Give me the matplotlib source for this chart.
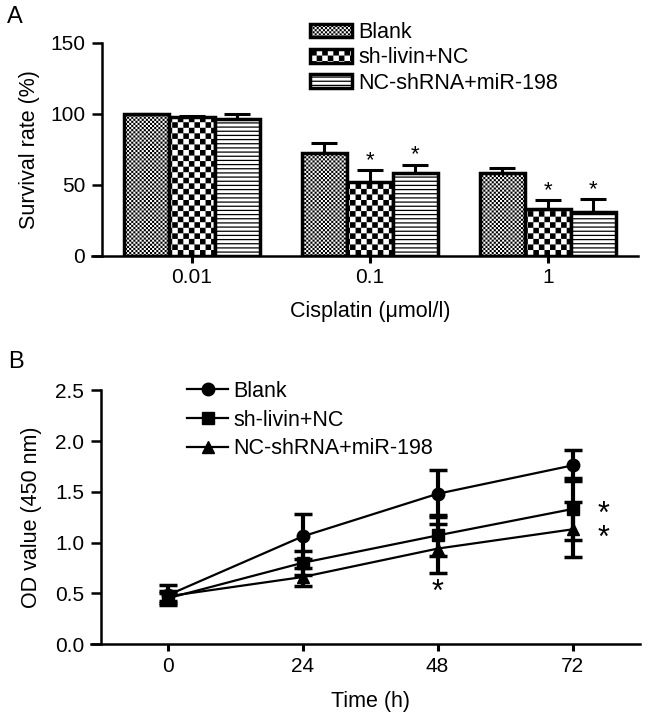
import numpy as np
import matplotlib
matplotlib.use("Agg")
import matplotlib.pyplot as plt
import matplotlib.hatch as mhatch
from matplotlib.path import Path

plt.rcParams['font.family'] = ['Liberation Sans', 'DejaVu Sans']
plt.rcParams['hatch.linewidth'] = 0.9

# ---- data, panel A ----
doses = ["0.01", "0.1", "1"]
groups = ["Blank", "sh-livin+NC", "NC-shRNA+miR-198"]
survival = {
    "Blank": [100.0, 72.5, 58.5],
    "sh-livin+NC": [97.5, 52.0, 32.7],
    "NC-shRNA+miR-198": [96.3, 58.0, 30.6],
}
survival_err = {
    "Blank": [0.0, 7.0, 3.0],
    "sh-livin+NC": [1.0, 8.4, 6.5],
    "NC-shRNA+miR-198": [3.3, 6.1, 9.1],
}
# (dose index, group) pairs marked with *
stars_a = [(1, "sh-livin+NC"), (1, "NC-shRNA+miR-198"),
           (2, "sh-livin+NC"), (2, "NC-shRNA+miR-198")]

# ---- data, panel B ----
hours = [0, 24, 48, 72]
od = {
    "Blank": [0.48, 1.06, 1.48, 1.76],
    "sh-livin+NC": [0.45, 0.80, 1.07, 1.33],
    "NC-shRNA+miR-198": [0.47, 0.66, 0.94, 1.13],
}
od_err = {
    "Blank": [0.10, 0.22, 0.23, 0.15],
    "sh-livin+NC": [0.05, 0.12, 0.20, 0.31],
    "NC-shRNA+miR-198": [0.05, 0.09, 0.24, 0.27],
}


class CheckerHatch(mhatch.HatchPatternBase):
    """Filled checkerboard hatch, drawn for 'O' (replaces the large circles)."""

    def __init__(self, hatch, density):
        self.n = hatch.count('O') * density
        self.num_vertices = (self.n * self.n // 2) * 5

    def set_vertices_and_codes(self, vertices, codes):
        n = self.n
        cell = 1.0 / n
        # the hatch path is also stroked, so shrink squares by half a line width
        half = cell / 2 - plt.rcParams['hatch.linewidth'] / 72 / 2
        half = max(half, 0.0005)
        sq = np.array([[-half, -half], [half, -half], [half, half],
                       [-half, half], [-half, -half]])
        sq_codes = [Path.MOVETO, Path.LINETO, Path.LINETO, Path.LINETO,
                    Path.CLOSEPOLY]
        parts = []
        for i in range(n):
            for j in range(n):
                if (i + j) % 2 == 0:
                    parts.append(sq + [(i + 0.5) * cell, (j + 0.5) * cell])
        vertices[:] = np.concatenate(parts)
        codes[:] = np.tile(sq_codes, len(parts))


mhatch._hatch_types = [t for t in mhatch._hatch_types
                       if t is not mhatch.LargeCircles] + [CheckerHatch]

hatches = {"Blank": "OOOOOOOO", "sh-livin+NC": "OOO", "NC-shRNA+miR-198": "----"}
markers = {"Blank": "o", "sh-livin+NC": "s", "NC-shRNA+miR-198": "^"}

fig = plt.figure(figsize=(6.5, 7.19), dpi=100)
W, H = 650, 719


def style_axes(ax, xlim):
    ax.spines['top'].set_visible(False)
    ax.spines['right'].set_visible(False)
    for s in ['left', 'bottom']:
        ax.spines[s].set_linewidth(1.8)
    ax.tick_params(axis='y', direction='out', length=7, width=1.8, pad=5,
                   labelsize=15)
    ax.tick_params(axis='x', direction='out', length=5, width=2.2, pad=4,
                   labelsize=15)
    ax.set_xlim(*xlim)
    # x axis line runs on to the end of the y ticks, as in the original
    ax_w = ax.get_position().width * W
    ext = 10 * (xlim[1] - xlim[0]) / ax_w
    ax.spines['bottom'].set_bounds(xlim[0] - ext, xlim[1])


# ================= panel A =================
axA = fig.add_axes([101.7 / W, 1 - 255.7 / H, (638 - 101.7) / W, (255.7 - 42.7) / H])
x = np.arange(len(doses))
width = 0.2556
for k, g in enumerate(groups):
    pos = x + (k - 1) * width
    axA.bar(pos, survival[g], width, color='white', edgecolor='black',
            linewidth=2.5, hatch=hatches[g], label=g, zorder=2)
    axA.errorbar(pos, survival[g],
                 yerr=[np.zeros(len(doses)), survival_err[g]],
                 fmt='none', ecolor='black', elinewidth=2.2, capsize=9.5,
                 capthick=2.2, zorder=3)

for d, g in stars_a:
    k = groups.index(g)
    top = survival[g][d] + survival_err[g][d]
    axA.annotate('*', xy=(x[d] + (k - 1) * width, top), xytext=(0, 7),
                 textcoords='offset points', ha='center', va='center',
                 fontsize=16)

style_axes(axA, (-0.507, 2.506))
axA.set_ylim(0, 150)
axA.set_yticks([0, 50, 100, 150])
axA.set_xticks(x)
axA.set_xticklabels(doses)
axA.set_ylabel("Survival rate (%)", fontsize=15.5, labelpad=7)
axA.set_xlabel("Cisplatin (\u03bcmol/l)", fontsize=15.5, labelpad=10)
axA.legend(loc='upper left', bbox_to_anchor=(310 / W, 1 - 22 / H),
           bbox_transform=fig.transFigure, frameon=False, fontsize=15.5,
           borderpad=0, borderaxespad=0, handlelength=1.95, handleheight=0.6,
           handletextpad=0.28, labelspacing=0.2)

# ================= panel B =================
axB = fig.add_axes([100.7 / W, 1 - 644 / H, (640 - 100.7) / W, (644 - 390.3) / H])
lines = []
for g in groups:
    eb = axB.errorbar(hours, od[g], yerr=od_err[g], fmt='-', marker=markers[g],
                      color='black', lw=1.6, ms=9, elinewidth=3, capsize=6.5,
                      capthick=2.5, zorder=3)
    lines.append(eb[0])

# significance marks: beside the 72 h points (one stacked text), below 48 h
mid72 = (od["sh-livin+NC"][3] + od["NC-shRNA+miR-198"][3]) / 2
axB.annotate('*\n*', xy=(72, mid72), xytext=(22, -5.5),
             textcoords='offset points', ha='center', va='center',
             fontsize=22, linespacing=0.75)
g = "NC-shRNA+miR-198"
axB.annotate('*', xy=(48, od[g][2] - od_err[g][2]), xytext=(0, -14),
             textcoords='offset points', ha='center', va='center', fontsize=22)

style_axes(axB, (-11.9, 84.0))
axB.set_ylim(0, 2.5)
axB.set_yticks(np.arange(0, 2.51, 0.5))
axB.set_yticklabels([f"{v:.1f}" for v in np.arange(0, 2.51, 0.5)])
axB.set_xticks(hours)
axB.set_ylabel("OD value (450 nm)", fontsize=15.5, labelpad=9)
axB.set_xlabel("Time (h)", fontsize=15.5, labelpad=11)
axB.legend(lines, groups, loc='upper left', bbox_to_anchor=(187.5 / W, 1 - 381 / H),
           bbox_transform=fig.transFigure, frameon=False, fontsize=15.5,
           borderpad=0, borderaxespad=0, handlelength=1.86, numpoints=1,
           handletextpad=0.28, labelspacing=0.36)

fig.text(7 / W, 1 - 23 / H, "A", fontsize=17, ha='left', va='baseline')
fig.text(8 / W, 1 - 368 / H, "B", fontsize=17, ha='left', va='baseline')

fig.savefig("out.png", dpi=100)
